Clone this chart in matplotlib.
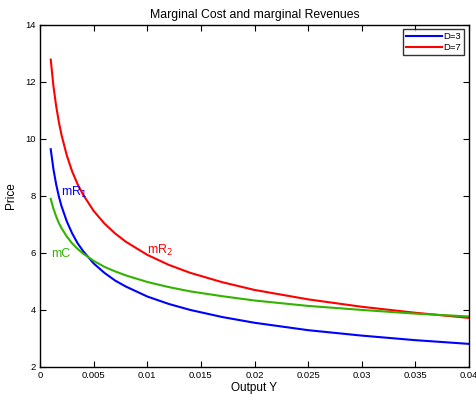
import matplotlib
matplotlib.use("Agg")
import matplotlib.pyplot as plt

plt.rcParams['font.family'] = ['Liberation Sans', 'DejaVu Sans']

output_y = [0.001, 0.00125, 0.0015, 0.00175, 0.002, 0.0025, 0.003, 0.0035, 0.004,
            0.005, 0.006, 0.007, 0.008, 0.01, 0.012, 0.014, 0.017, 0.02, 0.025,
            0.03, 0.035, 0.04]
mr1 = [9.63, 8.94, 8.41, 7.99, 7.64, 7.10, 6.68, 6.34, 6.07, 5.63, 5.30, 5.03, 4.82,
       4.47, 4.21, 4.00, 3.75, 3.55, 3.29, 3.10, 2.94, 2.81]
mr2 = [12.77, 11.85, 11.16, 10.60, 10.14, 9.41, 8.85, 8.41, 8.05, 7.47, 7.03, 6.68,
       6.39, 5.93, 5.58, 5.30, 4.97, 4.70, 4.37, 4.11, 3.90, 3.72]
mc = [7.89, 7.55, 7.28, 7.05, 6.87, 6.57, 6.33, 6.14, 5.98, 5.72, 5.51, 5.35, 5.21,
      4.98, 4.80, 4.65, 4.48, 4.33, 4.14, 4.00, 3.87, 3.77]

x_ticks = [0, 0.005, 0.01, 0.015, 0.02, 0.025, 0.03, 0.035, 0.04]
x_tick_labels = ['0', '0.005', '0.01', '0.015', '0.02', '0.025', '0.03', '0.035', '0.04']
y_ticks = [2, 4, 6, 8, 10, 12, 14]

fig = plt.figure(figsize=(4.76, 3.95), dpi=100)
ax = fig.add_axes([40/476, 28/395, 429/476, 342.5/395])

blue = (0, 0, 1)
red = (1, 0, 0)
green = (0.2, 0.7, 0.0)

ax.plot(output_y, mr1, color=blue, lw=1.5, label='D=3')
ax.plot(output_y, mr2, color=red, lw=1.5, label='D=7')
ax.plot(output_y, mc, color=green, lw=1.5)

ax.text(0.0020, 8.1, r'mR$_1$', color=blue, fontsize=9, va='center', ha='left')
ax.text(0.0100, 6.1, r'mR$_2$', color=red, fontsize=9, va='center', ha='left')
ax.text(0.0010, 5.95, 'mC', color=green, fontsize=9, va='center', ha='left')

ax.set_xlim(0, 0.04)
ax.set_ylim(2, 14)
ax.set_xticks(x_ticks)
ax.set_xticklabels(x_tick_labels)
ax.set_yticks(y_ticks)
ax.tick_params(direction='in', top=True, right=True, labelsize=6.8, length=4, width=0.8, pad=3)
for s in ax.spines.values():
    s.set_linewidth(1.0)

ax.set_title('Marginal Cost and marginal Revenues', fontsize=8.8, pad=5)
ax.set_xlabel('Output Y', fontsize=8.5, labelpad=1)
ax.set_ylabel('Price', fontsize=8.5, labelpad=6)

leg = ax.legend(loc='upper right', fontsize=6.8, frameon=True, fancybox=False,
                handlelength=3.8, borderaxespad=0.5, borderpad=0.3, labelspacing=0.2,
                handletextpad=0.2)
leg.get_frame().set_edgecolor('black')
leg.get_frame().set_linewidth(1.0)

fig.savefig('out.png', dpi=100)
